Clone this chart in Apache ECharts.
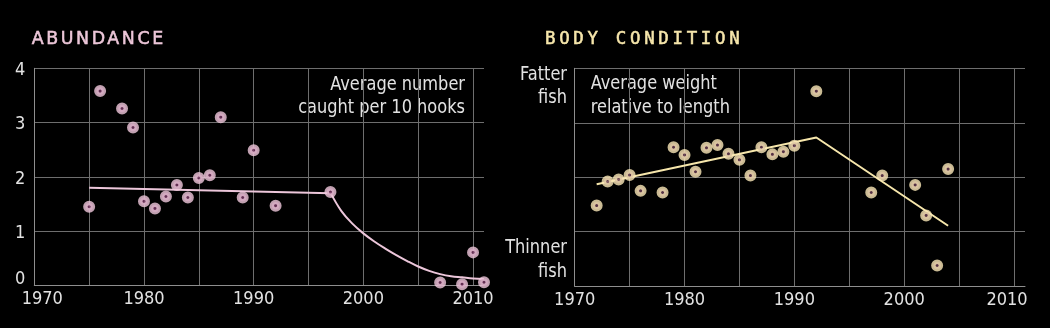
<!DOCTYPE html>
<html>
<head>
<meta charset="utf-8">
<script src="https://cdn.jsdelivr.net/npm/echarts@6/dist/echarts.min.js"></script>
<style>
  html, body { margin: 0; padding: 0; background: #000; }
  #wrap { position: relative; width: 1050px; height: 328px; background: #000; }
  #chart { position: absolute; left: 0; top: 0; width: 1050px; height: 328px; }
  .ttl { position: absolute; top: 30.3px; font-size: 17.4px; line-height: 17.4px; white-space: nowrap; }
  #t1 { left: 31.7px; color: #ecc6d8; font-family: "DejaVu Sans", sans-serif; letter-spacing: 2.6px; -webkit-text-stroke: 0.5px #ecc6d8; }
  #t2 { left: 545px; color: #f6e6ab; font-family: "DejaVu Sans Mono", monospace; letter-spacing: 3.7px; -webkit-text-stroke: 0.5px #f6e6ab; }
</style>
</head>
<body>
<div id="wrap">
  <div id="chart"></div>
  <div class="ttl" id="t1">ABUNDANCE</div>
  <div class="ttl" id="t2">BODY CONDITION</div>
</div>
<script>
// ---------- DATA ----------
const xLabelYears = [1970, 1980, 1990, 2000, 2010];
const abundanceTicks = [0, 1, 2, 3, 4];

const abundanceYears  = [1975, 1976, 1978, 1979, 1980, 1981, 1982, 1983, 1984, 1985, 1986, 1987, 1989, 1990, 1992, 1997, 2007, 2009, 2010, 2011];
const abundanceValues = [1.45, 3.58, 3.26, 2.91, 1.55, 1.42, 1.64, 1.85, 1.62, 1.98, 2.03, 3.10, 1.62, 2.49, 1.47, 1.72, 0.055, 0.025, 0.61, 0.06];

const abundanceFlatYears  = [1975, 1997];
const abundanceFlatValues = [1.80, 1.70];

const abundanceDeclineYears  = [1997, 1998, 1999, 2000, 2001, 2002, 2003, 2004, 2005, 2006, 2007, 2008, 2009, 2010, 2011];
const abundanceDeclineValues = [1.71, 1.37, 1.14, 0.96, 0.81, 0.68, 0.56, 0.45, 0.35, 0.27, 0.21, 0.17, 0.15, 0.13, 0.12];

const conditionYears  = [1972, 1973, 1974, 1975, 1976, 1978, 1979, 1980, 1981, 1982, 1983, 1984, 1985, 1986, 1987, 1988, 1989, 1990, 1992, 1997, 1998, 2001, 2002, 2003, 2004];
const conditionValues = [1.48, 1.92, 1.96, 2.04, 1.75, 1.72, 2.55, 2.41, 2.10, 2.54, 2.59, 2.43, 2.32, 2.03, 2.55, 2.42, 2.47, 2.58, 3.58, 1.72, 2.03, 1.86, 1.30, 0.38, 2.15];

const conditionTrendYears  = [1972, 1992, 2004];
const conditionTrendValues = [1.87, 2.73, 1.11];

// ---------- HELPERS ----------
const zip = (xs, ys) => xs.map((x, i) => [x, ys[i]]);
const labelFont = "'DejaVu Sans Condensed', 'Liberation Sans Narrow', sans-serif";
const gridColor = '#6e6e6e';
const axisColor = '#8e8e8e';
const textColor = '#e2e2e2';
const tickSize = 18;

function xAxisFor(gridIndex, firstPad, lastPad) {
  return {
    type: 'value', gridIndex: gridIndex, min: 1970, max: 2011, interval: 5,
    axisLine: { show: true, onZero: false, lineStyle: { color: axisColor, width: 1 } },
    axisTick: { show: false },
    splitLine: { show: true, showMaxLine: false, lineStyle: { color: gridColor, width: 1 } },
    axisLabel: {
      color: textColor, fontFamily: labelFont, fontSize: tickSize, margin: 5,
      showMaxLabel: false,
      formatter: function (v) {
        if (xLabelYears.indexOf(v) < 0) return '';
        if (v === 1970 && firstPad) return '{f|' + v + '}';
        if (v === 2010 && lastPad) return '{l|' + v + '}';
        return String(v);
      },
      rich: {
        f: { color: textColor, fontFamily: labelFont, fontSize: tickSize, padding: [0, 0, 0, 16] },
        l: { color: textColor, fontFamily: labelFont, fontSize: tickSize, padding: [0, 14, 0, 0] }
      }
    }
  };
}

const markerLeft  = { color: '#7a3a66', borderColor: '#f0c8dc', borderWidth: 4.5 };
const markerRight = { color: '#6a3d55', borderColor: '#fbe9b8', borderWidth: 4.5 };

const chart = echarts.init(document.getElementById('chart'), null, { renderer: 'canvas' });

function note(text, x, y, align) {
  return {
    type: 'text', x: x, y: y, scaleX: 0.9, silent: true,
    style: { text: text, align: align, verticalAlign: 'top', fill: textColor,
             font: "20px " + labelFont, lineHeight: 23.6 }
  };
}

const option = {
  backgroundColor: '#000',
  animation: false,
  grid: [
    { left: 34.3, right: 566, top: 68.3, bottom: 42.5 },
    { left: 574.7, right: 25, top: 68.3, bottom: 41.8 }
  ],
  xAxis: [ xAxisFor(0, true, false), xAxisFor(1, false, true) ],
  yAxis: [
    {
      type: 'value', gridIndex: 0, min: 0, max: 4, interval: 1,
      axisLine: { show: true, lineStyle: { color: axisColor } },
      axisTick: { show: false },
      splitLine: { show: true, lineStyle: { color: gridColor } },
      axisLabel: {
        color: textColor, fontFamily: labelFont, fontSize: tickSize, margin: 9,
        formatter: function (v) {
          if (abundanceTicks.indexOf(v) < 0) return '';
          return v === 0 ? '{z|0}' : '{n|' + v + '}';
        },
        rich: {
          z: { color: textColor, fontFamily: labelFont, fontSize: tickSize, padding: [0, 0, 12, 0] },
          n: { color: textColor, fontFamily: labelFont, fontSize: tickSize, padding: [4, 0, 0, 0] }
        }
      }
    },
    {
      type: 'value', gridIndex: 1, min: 0, max: 4, interval: 1,
      axisLine: { show: true, lineStyle: { color: axisColor } },
      axisTick: { show: false },
      splitLine: { show: true, lineStyle: { color: gridColor } },
      axisLabel: { show: false }
    }
  ],
  graphic: [
    note('Average number\ncaught per 10 hooks', 465, 72.7, 'right'),
    note('Average weight\nrelative to length', 590.7, 72, 'left'),
    note('Fatter\nfish', 567, 62.7, 'right'),
    note('Thinner\nfish', 567, 236.3, 'right')
  ],
  series: [
    {
      type: 'line', xAxisIndex: 0, yAxisIndex: 0, data: zip(abundanceFlatYears, abundanceFlatValues),
      showSymbol: false, lineStyle: { color: '#ecc6da', width: 2 }, z: 2
    },
    {
      type: 'line', xAxisIndex: 0, yAxisIndex: 0, data: zip(abundanceDeclineYears, abundanceDeclineValues),
      showSymbol: false, smooth: 0.4, lineStyle: { color: '#ecc6da', width: 2 }, z: 2
    },
    {
      type: 'scatter', xAxisIndex: 0, yAxisIndex: 0, data: zip(abundanceYears, abundanceValues),
      symbol: 'circle', symbolSize: 7.5, itemStyle: markerLeft, z: 3
    },
    {
      type: 'line', xAxisIndex: 1, yAxisIndex: 1, data: zip(conditionTrendYears, conditionTrendValues),
      showSymbol: false, lineStyle: { color: '#f6e6ab', width: 2 }, z: 2
    },
    {
      type: 'scatter', xAxisIndex: 1, yAxisIndex: 1, data: zip(conditionYears, conditionValues),
      symbol: 'circle', symbolSize: 7.5, itemStyle: markerRight, z: 3
    }
  ]
};
chart.setOption(option);
</script>
</body>
</html>
